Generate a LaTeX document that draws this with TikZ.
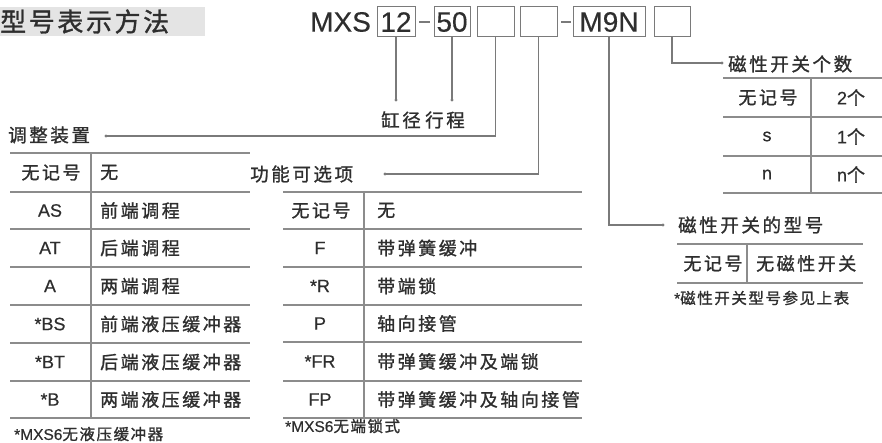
\documentclass[tikz,border=0pt]{standalone}
\usepackage{fontspec}
\setmainfont{Noto Sans CJK SC}
\newfontfamily\lat[FakeBold=0.5]{Liberation Sans}
\newfontfamily\latc[FakeBold=0.3]{Liberation Sans}
\newfontfamily\cjk[LetterSpace=14,FakeBold=1.2]{Noto Sans CJK SC}
\newfontfamily\cjkt[LetterSpace=10,FakeBold=1.2]{Noto Sans CJK SC}
\definecolor{txt}{HTML}{2E2E2E}
\definecolor{ln}{HTML}{7A7A7A}
\definecolor{rl}{HTML}{8C8C8C}
\definecolor{ttl}{HTML}{E4E4E4}
\begin{document}
\begin{tikzpicture}[x=1pt,y=-1pt,
  every node/.style={inner sep=0pt,text=txt},
  codebox/.style={draw=ln,line width=1pt,minimum height=30pt,font=\fontsize{28}{28}\selectfont\latc},
  conn/.style={draw=ln,line width=1.1pt},
  rulel/.style={draw=rl,line width=1.5pt},
  lab/.style={font=\fontsize{18.5}{19}\selectfont\cjk,anchor=west},
  cell/.style={font=\fontsize{18}{18}\selectfont\cjk},
  latcell/.style={font=\fontsize{18}{18}\selectfont\lat},
  foot/.style={font=\fontsize{15.5}{16}\selectfont\cjkt,anchor=west},
  dotc/.style={fill=ln}
]
\useasboundingbox (0,0) rectangle (882,443);

% title
\fill[ttl] (0,7) rectangle (205,36);
\node[anchor=west,font=\fontsize{26}{26}\selectfont\cjkt] (title) at (0,21.5) {型号表示方法};

% code line
\node[anchor=west,font=\fontsize{28}{28}\selectfont\latc] (mxs) at (310,22) {MXS};
\node[codebox,minimum width=38pt] (b12) at (396,22) {12};
\node[codebox,minimum width=36pt] (b50) at (452,22) {50};
\node[codebox,minimum width=37pt] (b3) at (495.5,22) {};
\node[codebox,minimum width=37pt] (b4) at (538.5,22) {};
\node[codebox,minimum width=72pt] (bm) at (609,22) {M9N};
\node[codebox,minimum width=36pt] (b6) at (672,22) {};
\coordinate (h1a) at (419,22); \coordinate (h1b) at (430,22);
\coordinate (h2a) at (561,22); \coordinate (h2b) at (571,22);
\draw[conn] (h1a) -- (h1b);
\draw[conn] (h2a) -- (h2b);

% connector end points
\coordinate (d12) at (396,100);
\coordinate (d50) at (452,100);
\coordinate (d3) at (106,136);
\coordinate (d4) at (385,174);
\coordinate (dm) at (663,225);
\coordinate (d6) at (722,63);
\draw[conn] (b12.south) -- (d12);
\draw[conn] (b50.south) -- (d50);
\draw[conn] (b3.south) |- (d3);
\draw[conn] (b4.south) |- (d4);
\draw[conn] (bm.south) |- (dm);
\draw[conn] (b6.south) |- (d6);
\foreach \d in {d12,d50,d3,d4,dm,d6} \fill[dotc] (\d) circle (1.7pt);

% labels under code
\node[lab] (lbore) at (381,120) {缸径};
\node[lab] (lstroke) at (425,120) {行程};

% ---------- left table: 调整装置
\node[lab] (ladj) at (8,135) {调整装置};
\foreach \y in {153,192,229,267,305,343,381,418} \draw[rulel] (10,\y) -- (250,\y);
\draw[rulel] (91,153) -- (91,418);
\node[cell] (a1) at (51,172.5) {无记号};  \node[cell,anchor=west] (a1b) at (100,172.5) {无};
\node[latcell] (a2) at (50,210.5) {AS};      \node[cell,anchor=west] (a2b) at (100,210.5) {前端调程};
\node[latcell] (a3) at (50,248) {AT};        \node[cell,anchor=west] (a3b) at (100,248) {后端调程};
\node[latcell] (a4) at (50,286) {A};         \node[cell,anchor=west] (a4b) at (100,286) {两端调程};
\node[latcell] (a5) at (50,324) {*BS};       \node[cell,anchor=west] (a5b) at (100,324) {前端液压缓冲器};
\node[latcell] (a6) at (50,362) {*BT};       \node[cell,anchor=west] (a6b) at (100,362) {后端液压缓冲器};
\node[latcell] (a7) at (50,399.5) {*B};      \node[cell,anchor=west] (a7b) at (100,399.5) {两端液压缓冲器};
\node[foot] (fa) at (14,434) {{\lat *MXS6}无液压缓冲器};

% ---------- middle table: 功能可选项
\node[lab] (lfun) at (250,174) {功能可选项};
\foreach \y in {192,229,267,305,342,381,418} \draw[rulel] (283,\y) -- (582,\y);
\draw[rulel] (364,192) -- (364,418);
\node[cell] (f1) at (321,210.5) {无记号};  \node[cell,anchor=west] (f1b) at (377,210.5) {无};
\node[latcell] (f2) at (320,248) {F};        \node[cell,anchor=west] (f2b) at (377,248) {带弹簧缓冲};
\node[latcell] (f3) at (320,286) {*R};       \node[cell,anchor=west] (f3b) at (377,286) {带端锁};
\node[latcell] (f4) at (320,323.5) {P};      \node[cell,anchor=west] (f4b) at (377,323.5) {轴向接管};
\node[latcell] (f5) at (320,361.5) {*FR};    \node[cell,anchor=west] (f5b) at (377,361.5) {带弹簧缓冲及端锁};
\node[latcell] (f6) at (320,399.5) {FP};     \node[cell,anchor=west] (f6b) at (377,399.5) {带弹簧缓冲及轴向接管};
\node[foot] (ff) at (285,426) {{\lat *MXS6}无端锁式};

% ---------- top right: 磁性开关个数
\node[lab] (lnum) at (728,64) {磁性开关个数};
\foreach \y in {78,117,156,193} \draw[rulel] (723,\y) -- (882,\y);
\draw[rulel] (811,78) -- (811,193);
\node[cell] (n1) at (768,97.5) {无记号};  \node[cell] (n1b) at (851,97.5) {{\lat 2}个};
\node[latcell] (n2) at (767,136.5) {s};      \node[cell] (n2b) at (851,136.5) {{\lat 1}个};
\node[latcell] (n3) at (767,174.5) {n};      \node[cell] (n3b) at (851,174.5) {{\lat n}个};

% ---------- right: 磁性开关的型号
\node[lab] (lsw) at (678,225) {磁性开关的型号};
\foreach \y in {244,283} \draw[rulel] (677,\y) -- (863,\y);
\draw[rulel] (747,244) -- (747,283);
\node[cell] (s1) at (713,263.5) {无记号};
\node[cell,anchor=west] (s1b) at (756,263.5) {无磁性开关};
\node[foot] (fs) at (674,298) {{\lat *}磁性开关型号参见上表};
\end{tikzpicture}
\end{document}
